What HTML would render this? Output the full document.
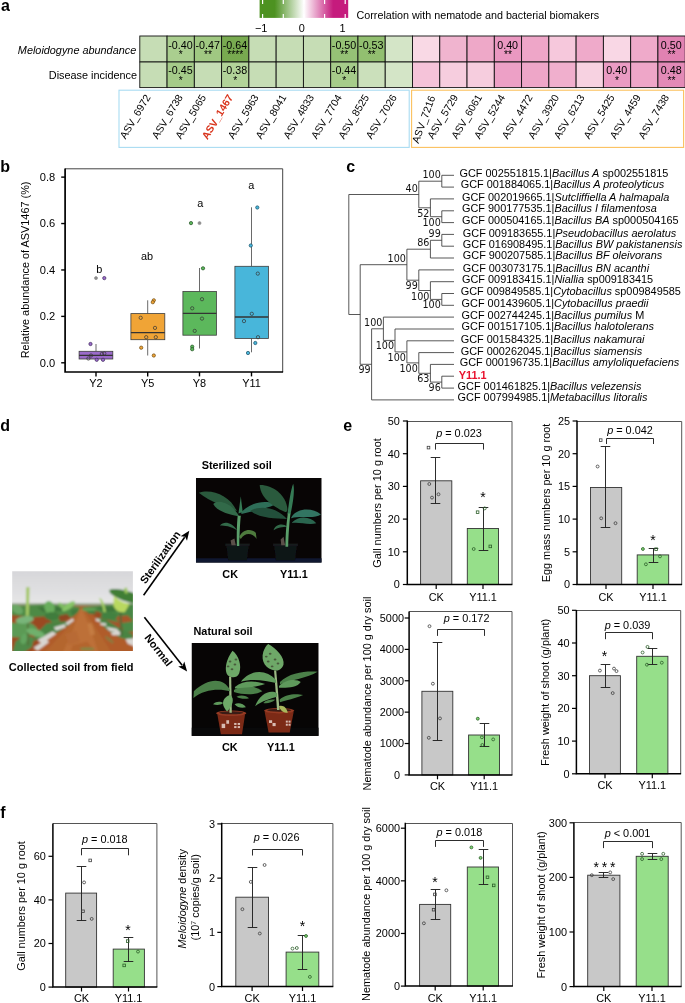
<!DOCTYPE html>
<html><head><meta charset="utf-8"><title>Figure</title>
<style>
html,body{margin:0;padding:0;background:#fff;}
svg{display:block;font-family:'Liberation Sans', Arial, sans-serif;}
</style></head><body>
<svg width="685" height="1003" viewBox="0 0 685 1003">
<rect x="0" y="0" width="685" height="1003" fill="#fff"/>
<g id="panel-a">
<text x="0.90" y="11.00" font-size="16" font-weight="bold">a</text>
<defs><linearGradient id="cb" x1="0" x2="1" y1="0" y2="0"><stop offset="0" stop-color="#4d9221"/><stop offset="0.17" stop-color="#4d9221"/><stop offset="0.5" stop-color="#ffffff"/><stop offset="0.83" stop-color="#c51b7d"/><stop offset="1" stop-color="#c51b7d"/></linearGradient></defs>
<rect x="259.60" y="0.00" width="88.60" height="17.90" fill="url(#cb)" stroke="none" stroke-width="1"/>
<line x1="262.60" y1="0.00" x2="262.60" y2="4.00" stroke="#fff" stroke-width="1.2"/>
<line x1="262.60" y1="13.90" x2="262.60" y2="17.90" stroke="#fff" stroke-width="1.2"/>
<line x1="283.30" y1="0.00" x2="283.30" y2="4.00" stroke="#fff" stroke-width="1.2"/>
<line x1="283.30" y1="13.90" x2="283.30" y2="17.90" stroke="#fff" stroke-width="1.2"/>
<line x1="304.00" y1="0.00" x2="304.00" y2="4.00" stroke="#fff" stroke-width="1.2"/>
<line x1="304.00" y1="13.90" x2="304.00" y2="17.90" stroke="#fff" stroke-width="1.2"/>
<line x1="324.60" y1="0.00" x2="324.60" y2="4.00" stroke="#fff" stroke-width="1.2"/>
<line x1="324.60" y1="13.90" x2="324.60" y2="17.90" stroke="#fff" stroke-width="1.2"/>
<line x1="345.20" y1="0.00" x2="345.20" y2="4.00" stroke="#fff" stroke-width="1.2"/>
<line x1="345.20" y1="13.90" x2="345.20" y2="17.90" stroke="#fff" stroke-width="1.2"/>
<text x="261.20" y="31.80" font-size="10.9" text-anchor="middle">−1</text>
<text x="301.90" y="31.80" font-size="10.9" text-anchor="middle">0</text>
<text x="342.60" y="31.80" font-size="10.9" text-anchor="middle">1</text>
<text x="356.50" y="18.80" font-size="10.75">Correlation with nematode and bacterial biomakers</text>
<text x="136.20" y="54.20" font-size="10.87" text-anchor="end" font-style="italic">Meloidogyne abundance</text>
<text x="137.00" y="79.20" font-size="10.87" text-anchor="end">Disease incidence</text>
<rect x="139.80" y="36.00" width="27.27" height="26.00" fill="rgb(198,221,181)" stroke="#111" stroke-width="0.9"/>
<rect x="139.80" y="62.00" width="27.27" height="25.60" fill="rgb(198,221,181)" stroke="#111" stroke-width="0.9"/>
<rect x="167.07" y="36.00" width="27.27" height="26.00" fill="rgb(170,206,143)" stroke="#111" stroke-width="0.9"/>
<rect x="167.07" y="62.00" width="27.27" height="25.60" fill="rgb(165,203,137)" stroke="#111" stroke-width="0.9"/>
<rect x="194.34" y="36.00" width="27.27" height="26.00" fill="rgb(160,200,130)" stroke="#111" stroke-width="0.9"/>
<rect x="194.34" y="62.00" width="27.27" height="25.60" fill="rgb(198,221,181)" stroke="#111" stroke-width="0.9"/>
<rect x="221.61" y="36.00" width="27.27" height="26.00" fill="rgb(120,170,80)" stroke="#111" stroke-width="0.9"/>
<rect x="221.61" y="62.00" width="27.27" height="25.60" fill="rgb(178,211,153)" stroke="#111" stroke-width="0.9"/>
<rect x="248.88" y="36.00" width="27.27" height="26.00" fill="rgb(198,221,181)" stroke="#111" stroke-width="0.9"/>
<rect x="248.88" y="62.00" width="27.27" height="25.60" fill="rgb(198,221,181)" stroke="#111" stroke-width="0.9"/>
<rect x="276.15" y="36.00" width="27.27" height="26.00" fill="rgb(198,221,181)" stroke="#111" stroke-width="0.9"/>
<rect x="276.15" y="62.00" width="27.27" height="25.60" fill="rgb(198,221,181)" stroke="#111" stroke-width="0.9"/>
<rect x="303.42" y="36.00" width="27.27" height="26.00" fill="rgb(198,221,181)" stroke="#111" stroke-width="0.9"/>
<rect x="303.42" y="62.00" width="27.27" height="25.60" fill="rgb(198,221,181)" stroke="#111" stroke-width="0.9"/>
<rect x="330.69" y="36.00" width="27.27" height="26.00" fill="rgb(150,194,118)" stroke="#111" stroke-width="0.9"/>
<rect x="330.69" y="62.00" width="27.27" height="25.60" fill="rgb(166,204,138)" stroke="#111" stroke-width="0.9"/>
<rect x="357.96" y="36.00" width="27.27" height="26.00" fill="rgb(146,191,112)" stroke="#111" stroke-width="0.9"/>
<rect x="357.96" y="62.00" width="27.27" height="25.60" fill="rgb(203,224,187)" stroke="#111" stroke-width="0.9"/>
<rect x="385.23" y="36.00" width="27.27" height="26.00" fill="rgb(212,229,199)" stroke="#111" stroke-width="0.9"/>
<rect x="385.23" y="62.00" width="27.27" height="25.60" fill="rgb(212,229,199)" stroke="#111" stroke-width="0.9"/>
<rect x="412.50" y="36.00" width="27.27" height="26.00" fill="rgb(249,217,229)" stroke="#111" stroke-width="0.9"/>
<rect x="412.50" y="62.00" width="27.27" height="25.60" fill="rgb(245,195,217)" stroke="#111" stroke-width="0.9"/>
<rect x="439.77" y="36.00" width="27.27" height="26.00" fill="rgb(240,180,207)" stroke="#111" stroke-width="0.9"/>
<rect x="439.77" y="62.00" width="27.27" height="25.60" fill="rgb(246,205,222)" stroke="#111" stroke-width="0.9"/>
<rect x="467.04" y="36.00" width="27.27" height="26.00" fill="rgb(238,168,200)" stroke="#111" stroke-width="0.9"/>
<rect x="467.04" y="62.00" width="27.27" height="25.60" fill="rgb(246,205,222)" stroke="#111" stroke-width="0.9"/>
<rect x="494.31" y="36.00" width="27.27" height="26.00" fill="rgb(234,152,193)" stroke="#111" stroke-width="0.9"/>
<rect x="494.31" y="62.00" width="27.27" height="25.60" fill="rgb(237,160,198)" stroke="#111" stroke-width="0.9"/>
<rect x="521.58" y="36.00" width="27.27" height="26.00" fill="rgb(238,166,200)" stroke="#111" stroke-width="0.9"/>
<rect x="521.58" y="62.00" width="27.27" height="25.60" fill="rgb(238,166,200)" stroke="#111" stroke-width="0.9"/>
<rect x="548.85" y="36.00" width="27.27" height="26.00" fill="rgb(246,200,220)" stroke="#111" stroke-width="0.9"/>
<rect x="548.85" y="62.00" width="27.27" height="25.60" fill="rgb(240,175,205)" stroke="#111" stroke-width="0.9"/>
<rect x="576.12" y="36.00" width="27.27" height="26.00" fill="rgb(239,170,202)" stroke="#111" stroke-width="0.9"/>
<rect x="576.12" y="62.00" width="27.27" height="25.60" fill="rgb(247,210,225)" stroke="#111" stroke-width="0.9"/>
<rect x="603.39" y="36.00" width="27.27" height="26.00" fill="rgb(249,215,229)" stroke="#111" stroke-width="0.9"/>
<rect x="603.39" y="62.00" width="27.27" height="25.60" fill="rgb(234,155,195)" stroke="#111" stroke-width="0.9"/>
<rect x="630.66" y="36.00" width="27.27" height="26.00" fill="rgb(239,170,202)" stroke="#111" stroke-width="0.9"/>
<rect x="630.66" y="62.00" width="27.27" height="25.60" fill="rgb(238,166,200)" stroke="#111" stroke-width="0.9"/>
<rect x="657.93" y="36.00" width="27.27" height="26.00" fill="rgb(225,130,178)" stroke="#111" stroke-width="0.9"/>
<rect x="657.93" y="62.00" width="27.27" height="25.60" fill="rgb(227,138,183)" stroke="#111" stroke-width="0.9"/>
<text x="180.41" y="48.70" font-size="10.7" text-anchor="middle">-0.40</text>
<text x="180.71" y="58.30" font-size="10.2" text-anchor="middle">*</text>
<text x="207.68" y="48.70" font-size="10.7" text-anchor="middle">-0.47</text>
<text x="207.98" y="58.30" font-size="10.2" text-anchor="middle">**</text>
<text x="234.94" y="48.70" font-size="10.7" text-anchor="middle">-0.64</text>
<text x="235.25" y="58.30" font-size="10.2" text-anchor="middle">****</text>
<text x="344.03" y="48.70" font-size="10.7" text-anchor="middle">-0.50</text>
<text x="344.33" y="58.30" font-size="10.2" text-anchor="middle">**</text>
<text x="371.30" y="48.70" font-size="10.7" text-anchor="middle">-0.53</text>
<text x="371.60" y="58.30" font-size="10.2" text-anchor="middle">**</text>
<text x="507.64" y="48.70" font-size="10.7" text-anchor="middle">0.40</text>
<text x="507.94" y="58.30" font-size="10.2" text-anchor="middle">**</text>
<text x="671.27" y="48.70" font-size="10.7" text-anchor="middle">0.50</text>
<text x="671.57" y="58.30" font-size="10.2" text-anchor="middle">**</text>
<text x="180.41" y="73.80" font-size="10.7" text-anchor="middle">-0.45</text>
<text x="180.71" y="84.30" font-size="10.2" text-anchor="middle">*</text>
<text x="234.94" y="73.80" font-size="10.7" text-anchor="middle">-0.38</text>
<text x="235.25" y="84.30" font-size="10.2" text-anchor="middle">*</text>
<text x="344.03" y="73.80" font-size="10.7" text-anchor="middle">-0.44</text>
<text x="344.33" y="84.30" font-size="10.2" text-anchor="middle">*</text>
<text x="616.73" y="73.80" font-size="10.7" text-anchor="middle">0.40</text>
<text x="617.02" y="84.30" font-size="10.2" text-anchor="middle">*</text>
<text x="671.27" y="73.80" font-size="10.7" text-anchor="middle">0.48</text>
<text x="671.57" y="84.30" font-size="10.2" text-anchor="middle">**</text>
<rect x="119.00" y="90.20" width="290.20" height="57.20" fill="none" stroke="#a9dcf2" stroke-width="1.1"/>
<rect x="411.60" y="90.20" width="272.00" height="57.20" fill="none" stroke="#fbc15e" stroke-width="1.1"/>
<text x="151.00" y="97.20" font-size="10.4" text-anchor="end" transform="rotate(-59 151.00 97.20)">ASV_6972</text>
<text x="183.20" y="97.20" font-size="10.4" text-anchor="end" transform="rotate(-59 183.20 97.20)">ASV_6738</text>
<text x="206.50" y="97.20" font-size="10.4" text-anchor="end" transform="rotate(-59 206.50 97.20)">ASV_5065</text>
<text x="233.40" y="97.20" font-size="10.4" text-anchor="end" font-weight="bold" fill="#d9341c" transform="rotate(-59 233.40 97.20)">ASV_1467</text>
<text x="259.10" y="97.20" font-size="10.4" text-anchor="end" transform="rotate(-59 259.10 97.20)">ASV_5963</text>
<text x="286.80" y="97.20" font-size="10.4" text-anchor="end" transform="rotate(-59 286.80 97.20)">ASV_8041</text>
<text x="314.50" y="97.20" font-size="10.4" text-anchor="end" transform="rotate(-59 314.50 97.20)">ASV_4833</text>
<text x="342.30" y="97.20" font-size="10.4" text-anchor="end" transform="rotate(-59 342.30 97.20)">ASV_7704</text>
<text x="369.50" y="97.20" font-size="10.4" text-anchor="end" transform="rotate(-59 369.50 97.20)">ASV_8525</text>
<text x="397.20" y="97.20" font-size="10.4" text-anchor="end" transform="rotate(-59 397.20 97.20)">ASV_7026</text>
<text x="435.40" y="97.20" font-size="10.4" text-anchor="end" transform="rotate(-70 435.40 97.20)">ASV_7216</text>
<text x="458.50" y="97.20" font-size="10.4" text-anchor="end" transform="rotate(-59 458.50 97.20)">ASV_5729</text>
<text x="482.50" y="97.20" font-size="10.4" text-anchor="end" transform="rotate(-59 482.50 97.20)">ASV_6061</text>
<text x="505.40" y="97.20" font-size="10.4" text-anchor="end" transform="rotate(-59 505.40 97.20)">ASV_5244</text>
<text x="533.10" y="97.20" font-size="10.4" text-anchor="end" transform="rotate(-59 533.10 97.20)">ASV_4472</text>
<text x="559.40" y="97.20" font-size="10.4" text-anchor="end" transform="rotate(-59 559.40 97.20)">ASV_3920</text>
<text x="585.10" y="97.20" font-size="10.4" text-anchor="end" transform="rotate(-59 585.10 97.20)">ASV_6213</text>
<text x="614.90" y="97.20" font-size="10.4" text-anchor="end" transform="rotate(-59 614.90 97.20)">ASV_5425</text>
<text x="641.20" y="97.20" font-size="10.4" text-anchor="end" transform="rotate(-59 641.20 97.20)">ASV_4459</text>
<text x="669.50" y="97.20" font-size="10.4" text-anchor="end" transform="rotate(-59 669.50 97.20)">ASV_7438</text>
</g>
<g id="panel-b">
<text x="0.20" y="171.90" font-size="16" font-weight="bold">b</text>
<path d="M65.1 168.8H282.7V372.0" fill="none" stroke="#444" stroke-width="1.0"/>
<line x1="96.00" y1="344.00" x2="96.00" y2="351.30" stroke="#444" stroke-width="0.8"/>
<line x1="96.00" y1="359.00" x2="96.00" y2="359.60" stroke="#444" stroke-width="0.8"/>
<rect x="79.10" y="351.30" width="33.70" height="7.70" fill="#9b6bca" stroke="#3c3c3c" stroke-width="0.8"/>
<line x1="79.10" y1="355.30" x2="112.80" y2="355.30" stroke="#333" stroke-width="1.3"/>
<line x1="147.70" y1="300.30" x2="147.70" y2="313.60" stroke="#444" stroke-width="0.8"/>
<line x1="147.70" y1="339.70" x2="147.70" y2="355.50" stroke="#444" stroke-width="0.8"/>
<rect x="130.90" y="313.60" width="33.90" height="26.10" fill="#f0a436" stroke="#3c3c3c" stroke-width="0.8"/>
<line x1="130.90" y1="332.70" x2="164.80" y2="332.70" stroke="#333" stroke-width="1.3"/>
<line x1="199.50" y1="268.00" x2="199.50" y2="291.50" stroke="#444" stroke-width="0.8"/>
<line x1="199.50" y1="335.20" x2="199.50" y2="348.50" stroke="#444" stroke-width="0.8"/>
<rect x="182.90" y="291.50" width="33.50" height="43.70" fill="#5cb85c" stroke="#3c3c3c" stroke-width="0.8"/>
<line x1="182.90" y1="313.30" x2="216.40" y2="313.30" stroke="#333" stroke-width="1.3"/>
<line x1="251.50" y1="207.30" x2="251.50" y2="266.30" stroke="#444" stroke-width="0.8"/>
<line x1="251.50" y1="338.40" x2="251.50" y2="352.30" stroke="#444" stroke-width="0.8"/>
<rect x="234.90" y="266.30" width="33.50" height="72.10" fill="#48b6da" stroke="#3c3c3c" stroke-width="0.8"/>
<line x1="234.90" y1="317.00" x2="268.40" y2="317.00" stroke="#333" stroke-width="1.3"/>
<circle cx="96.0" cy="278.1" r="1.5" fill="#8c8c8c" stroke="#8c8c8c" stroke-width="0.7"/>
<circle cx="104.3" cy="278.1" r="1.65" fill="#9b6bca" stroke="#3d2a5c" stroke-width="0.7"/>
<circle cx="90.5" cy="344.0" r="1.65" fill="#9b6bca" stroke="#3d2a5c" stroke-width="0.7"/>
<circle cx="91.0" cy="355.5" r="1.65" fill="none" stroke="#333" stroke-width="0.7"/>
<circle cx="88.4" cy="358.5" r="1.65" fill="none" stroke="#333" stroke-width="0.7"/>
<circle cx="96.7" cy="359.8" r="1.65" fill="#9b6bca" stroke="#3d2a5c" stroke-width="0.7"/>
<circle cx="103.0" cy="359.8" r="1.65" fill="#9b6bca" stroke="#3d2a5c" stroke-width="0.7"/>
<circle cx="101.8" cy="354.0" r="1.65" fill="none" stroke="#333" stroke-width="0.7"/>
<circle cx="104.3" cy="353.5" r="1.65" fill="none" stroke="#333" stroke-width="0.7"/>
<circle cx="153.8" cy="300.3" r="1.65" fill="#f0a436" stroke="#6b4a14" stroke-width="0.7"/>
<circle cx="152.8" cy="302.2" r="1.65" fill="#f0a436" stroke="#6b4a14" stroke-width="0.7"/>
<circle cx="140.7" cy="317.8" r="1.65" fill="none" stroke="#333" stroke-width="0.7"/>
<circle cx="155.0" cy="327.9" r="1.65" fill="none" stroke="#333" stroke-width="0.7"/>
<circle cx="146.2" cy="337.2" r="1.65" fill="none" stroke="#333" stroke-width="0.7"/>
<circle cx="155.8" cy="337.2" r="1.65" fill="none" stroke="#333" stroke-width="0.7"/>
<circle cx="141.2" cy="347.7" r="1.65" fill="#f0a436" stroke="#6b4a14" stroke-width="0.7"/>
<circle cx="153.8" cy="355.5" r="1.65" fill="#f0a436" stroke="#6b4a14" stroke-width="0.7"/>
<circle cx="199.5" cy="223.1" r="1.5" fill="#8c8c8c" stroke="#8c8c8c" stroke-width="0.7"/>
<circle cx="191.0" cy="223.1" r="1.65" fill="#5cb85c" stroke="#1f4f1f" stroke-width="0.7"/>
<circle cx="203.0" cy="268.3" r="1.65" fill="#5cb85c" stroke="#1f4f1f" stroke-width="0.7"/>
<circle cx="202.0" cy="299.2" r="1.65" fill="none" stroke="#333" stroke-width="0.7"/>
<circle cx="192.2" cy="308.3" r="1.65" fill="none" stroke="#333" stroke-width="0.7"/>
<circle cx="202.0" cy="318.6" r="1.65" fill="none" stroke="#333" stroke-width="0.7"/>
<circle cx="194.7" cy="330.9" r="1.65" fill="none" stroke="#333" stroke-width="0.7"/>
<circle cx="192.2" cy="346.7" r="1.65" fill="#5cb85c" stroke="#1f4f1f" stroke-width="0.7"/>
<circle cx="192.2" cy="349.2" r="1.65" fill="#5cb85c" stroke="#1f4f1f" stroke-width="0.7"/>
<circle cx="257.3" cy="207.5" r="1.65" fill="#48b6da" stroke="#1c5268" stroke-width="0.7"/>
<circle cx="250.8" cy="245.5" r="1.65" fill="#48b6da" stroke="#1c5268" stroke-width="0.7"/>
<circle cx="257.8" cy="273.6" r="1.65" fill="none" stroke="#333" stroke-width="0.7"/>
<circle cx="251.8" cy="313.8" r="1.65" fill="none" stroke="#333" stroke-width="0.7"/>
<circle cx="244.0" cy="321.1" r="1.65" fill="none" stroke="#333" stroke-width="0.7"/>
<circle cx="258.0" cy="337.2" r="1.65" fill="none" stroke="#333" stroke-width="0.7"/>
<circle cx="255.3" cy="343.0" r="1.65" fill="#48b6da" stroke="#1c5268" stroke-width="0.7"/>
<circle cx="248.0" cy="353.0" r="1.65" fill="#48b6da" stroke="#1c5268" stroke-width="0.7"/>
<path d="M65.1 168.4V372.0H283.09999999999997" fill="none" stroke="#000" stroke-width="1.7"/>
<line x1="61.20" y1="362.80" x2="65.10" y2="362.80" stroke="#000" stroke-width="1.4"/>
<text x="55.20" y="366.70" font-size="11.1" text-anchor="end">0.0</text>
<line x1="61.20" y1="316.38" x2="65.10" y2="316.38" stroke="#000" stroke-width="1.4"/>
<text x="55.20" y="320.28" font-size="11.1" text-anchor="end">0.2</text>
<line x1="61.20" y1="269.96" x2="65.10" y2="269.96" stroke="#000" stroke-width="1.4"/>
<text x="55.20" y="273.86" font-size="11.1" text-anchor="end">0.4</text>
<line x1="61.20" y1="223.54" x2="65.10" y2="223.54" stroke="#000" stroke-width="1.4"/>
<text x="55.20" y="227.44" font-size="11.1" text-anchor="end">0.6</text>
<line x1="61.20" y1="177.12" x2="65.10" y2="177.12" stroke="#000" stroke-width="1.4"/>
<text x="55.20" y="181.02" font-size="11.1" text-anchor="end">0.8</text>
<line x1="96.00" y1="372.00" x2="96.00" y2="376.40" stroke="#000" stroke-width="1.4"/>
<text x="96.00" y="387.40" font-size="10.9" text-anchor="middle">Y2</text>
<line x1="147.70" y1="372.00" x2="147.70" y2="376.40" stroke="#000" stroke-width="1.4"/>
<text x="147.70" y="387.40" font-size="10.9" text-anchor="middle">Y5</text>
<line x1="199.50" y1="372.00" x2="199.50" y2="376.40" stroke="#000" stroke-width="1.4"/>
<text x="199.50" y="387.40" font-size="10.9" text-anchor="middle">Y8</text>
<line x1="251.50" y1="372.00" x2="251.50" y2="376.40" stroke="#000" stroke-width="1.4"/>
<text x="251.50" y="387.40" font-size="10.9" text-anchor="middle">Y11</text>
<text x="99.20" y="273.00" font-size="10.9" text-anchor="middle">b</text>
<text x="147.00" y="260.00" font-size="10.9" text-anchor="middle">ab</text>
<text x="200.30" y="207.00" font-size="10.9" text-anchor="middle">a</text>
<text x="251.30" y="188.70" font-size="10.9" text-anchor="middle">a</text>
<text x="29.20" y="269.90" font-size="10.9" text-anchor="middle" transform="rotate(-90 29.20 269.90)">Relative abundance of ASV1467 (%)</text>
</g>
<g id="panel-c">
<text x="346.20" y="171.60" font-size="16" font-weight="bold">c</text>
<path d="M441.8 175.3L454.0 175.3M441.8 187.1L454.0 187.1M441.8 175.3L441.8 187.1M418.8 181.2L441.8 181.2M430.4 198.9L454.0 198.9M441.8 210.8L454.0 210.8M441.8 222.6L454.0 222.6M441.8 210.8L441.8 222.6M430.4 216.7L441.8 216.7M430.4 198.9L430.4 216.7M418.8 207.8L430.4 207.8M418.8 181.2L418.8 207.8M348.8 194.5L418.8 194.5M441.8 234.4L454.0 234.4M441.8 246.2L454.0 246.2M441.8 234.4L441.8 246.2M430.4 240.3L441.8 240.3M430.4 258.0L454.0 258.0M430.4 240.3L430.4 258.0M406.9 249.2L430.4 249.2M418.8 269.9L454.0 269.9M430.4 281.7L454.0 281.7M441.8 293.5L454.0 293.5M441.8 305.3L454.0 305.3M441.8 293.5L441.8 305.3M430.4 299.4L441.8 299.4M430.4 281.7L430.4 299.4M418.8 290.5L430.4 290.5M418.8 269.9L418.8 290.5M406.9 280.2L418.8 280.2M406.9 249.2L406.9 280.2M360.2 264.7L406.9 264.7M383.4 317.1L454.0 317.1M395.0 329.0L454.0 329.0M406.9 340.8L454.0 340.8M418.8 352.6L454.0 352.6M430.4 364.4L454.0 364.4M441.8 376.2L454.0 376.2M441.8 388.1L454.0 388.1M441.8 376.2L441.8 388.1M430.4 382.1L441.8 382.1M430.4 364.4L430.4 382.1M418.8 373.3L430.4 373.3M418.8 352.6L418.8 373.3M406.9 362.9L418.8 362.9M406.9 340.8L406.9 362.9M395.0 351.9L406.9 351.9M395.0 329.0L395.0 351.9M383.4 340.4L395.0 340.4M383.4 317.1L383.4 340.4M371.6 328.8L383.4 328.8M371.6 399.9L454.0 399.9M371.6 328.8L371.6 399.9M360.2 364.3L371.6 364.3M360.2 264.7L360.2 364.3M348.8 314.5L360.2 314.5M348.8 194.5L348.8 314.5" fill="none" stroke="#3a3a3a" stroke-width="0.85"/>
<text x="440.8" y="178.2" font-size="9.6" text-anchor="end" font-family="'DejaVu Sans', Verdana, sans-serif" fill="#111">100</text>
<text x="440.8" y="225.7" font-size="9.6" text-anchor="end" font-family="'DejaVu Sans', Verdana, sans-serif" fill="#111">100</text>
<text x="429.4" y="216.8" font-size="9.6" text-anchor="end" font-family="'DejaVu Sans', Verdana, sans-serif" fill="#111">52</text>
<text x="417.8" y="191.5" font-size="9.6" text-anchor="end" font-family="'DejaVu Sans', Verdana, sans-serif" fill="#111">40</text>
<text x="440.8" y="237.3" font-size="9.6" text-anchor="end" font-family="'DejaVu Sans', Verdana, sans-serif" fill="#111">99</text>
<text x="429.4" y="246.2" font-size="9.6" text-anchor="end" font-family="'DejaVu Sans', Verdana, sans-serif" fill="#111">86</text>
<text x="440.8" y="308.4" font-size="9.6" text-anchor="end" font-family="'DejaVu Sans', Verdana, sans-serif" fill="#111">100</text>
<text x="429.4" y="299.5" font-size="9.6" text-anchor="end" font-family="'DejaVu Sans', Verdana, sans-serif" fill="#111">100</text>
<text x="417.8" y="289.2" font-size="9.6" text-anchor="end" font-family="'DejaVu Sans', Verdana, sans-serif" fill="#111">99</text>
<text x="405.9" y="261.7" font-size="9.6" text-anchor="end" font-family="'DejaVu Sans', Verdana, sans-serif" fill="#111">100</text>
<text x="440.8" y="391.1" font-size="9.6" text-anchor="end" font-family="'DejaVu Sans', Verdana, sans-serif" fill="#111">96</text>
<text x="429.4" y="382.3" font-size="9.6" text-anchor="end" font-family="'DejaVu Sans', Verdana, sans-serif" fill="#111">63</text>
<text x="417.8" y="371.9" font-size="9.6" text-anchor="end" font-family="'DejaVu Sans', Verdana, sans-serif" fill="#111">100</text>
<text x="405.9" y="360.9" font-size="9.6" text-anchor="end" font-family="'DejaVu Sans', Verdana, sans-serif" fill="#111">100</text>
<text x="394.0" y="349.4" font-size="9.6" text-anchor="end" font-family="'DejaVu Sans', Verdana, sans-serif" fill="#111">100</text>
<text x="382.4" y="325.8" font-size="9.6" text-anchor="end" font-family="'DejaVu Sans', Verdana, sans-serif" fill="#111">100</text>
<text x="370.6" y="373.3" font-size="9.6" text-anchor="end" font-family="'DejaVu Sans', Verdana, sans-serif" fill="#111">99</text>
<text x="459.5" y="177.0" font-size="10.9">GCF 002551815.1|<tspan font-style="italic">Bacillus A</tspan> sp002551815</text>
<text x="460.7" y="187.8" font-size="10.9">GCF 001884065.1|<tspan font-style="italic">Bacillus A proteolyticus</tspan></text>
<text x="462.0" y="201.0" font-size="10.9">GCF 002019665.1|<tspan font-style="italic">Sutcliffiella A halmapala</tspan></text>
<text x="462.0" y="211.9" font-size="10.9">GCF 900177535.1|<tspan font-style="italic">Bacillus I filamentosa</tspan></text>
<text x="462.0" y="224.0" font-size="10.9">GCF 000504165.1|<tspan font-style="italic">Bacillus BA</tspan> sp000504165</text>
<text x="462.8" y="237.2" font-size="10.9">GCF 009183655.1|<tspan font-style="italic">Pseudobacillus aerolatus</tspan></text>
<text x="462.8" y="247.7" font-size="10.9">GCF 016908495.1|<tspan font-style="italic">Bacillus BW pakistanensis</tspan></text>
<text x="462.8" y="259.2" font-size="10.9">GCF 900207585.1|<tspan font-style="italic">Bacillus BF oleivorans</tspan></text>
<text x="462.8" y="272.3" font-size="10.9">GCF 003073175.1|<tspan font-style="italic">Bacillus BN acanthi</tspan></text>
<text x="462.0" y="283.3" font-size="10.9">GCF 009183415.1|<tspan font-style="italic">Niallia</tspan> sp009183415</text>
<text x="460.7" y="295.4" font-size="10.9">GCF 009849585.1|<tspan font-style="italic">Cytobacillus</tspan> sp009849585</text>
<text x="461.6" y="307.0" font-size="10.9">GCF 001439605.1|<tspan font-style="italic">Cytobacillus praedii</tspan></text>
<text x="461.6" y="319.4" font-size="10.9">GCF 002744245.1|<tspan font-style="italic">Bacillus pumilus</tspan> M</text>
<text x="461.6" y="330.3" font-size="10.9">GCF 001517105.1|<tspan font-style="italic">Bacillus halotolerans</tspan></text>
<text x="460.7" y="342.7" font-size="10.9">GCF 001584325.1|<tspan font-style="italic">Bacillus nakamurai</tspan></text>
<text x="460.7" y="354.9" font-size="10.9">GCF 000262045.1|<tspan font-style="italic">Bacillus siamensis</tspan></text>
<text x="459.7" y="366.4" font-size="10.9">GCF 000196735.1|<tspan font-style="italic">Bacillus amyloliquefaciens</tspan></text>
<text x="458.70" y="379.20" font-size="10.9" font-weight="bold" fill="#e8112d">Y11.1</text>
<text x="457.6" y="390.4" font-size="10.9">GCF 001461825.1|<tspan font-style="italic">Bacillus velezensis</tspan></text>
<text x="457.6" y="401.3" font-size="10.9">GCF 007994985.1|<tspan font-style="italic">Metabacillus litoralis</tspan></text>
</g>
<g id="panel-d">
<text x="0.20" y="431.20" font-size="16" font-weight="bold">d</text>
<defs><filter id="bl" filterUnits="userSpaceOnUse" x="-100" y="-100" width="900" height="700"><feGaussianBlur stdDeviation="4.5"/></filter><filter id="bl2" filterUnits="userSpaceOnUse" x="-100" y="-100" width="900" height="700"><feGaussianBlur stdDeviation="3.2"/></filter><linearGradient id="sky" x1="0" x2="0" y1="0" y2="1"><stop offset="0" stop-color="#d6d6d9"/><stop offset="0.25" stop-color="#d6d6d9"/><stop offset="1" stop-color="#e6e6e7"/></linearGradient><clipPath id="cpF"><rect x="12" y="18" width="656" height="434"/></clipPath><clipPath id="cpS"><rect x="15" y="15" width="653" height="440"/></clipPath><clipPath id="cpN"><rect x="18" y="15" width="650" height="475"/></clipPath></defs>
<svg x="12.2" y="571.3" width="120.7" height="79.8" viewBox="12 18 656 434" preserveAspectRatio="none">
<g clip-path="url(#cpF)"><g filter="url(#bl)">
<rect x="-60" y="-60" width="800" height="265" fill="url(#sky)"/>
<rect x="-60" y="192" width="800" height="22" fill="#8fa083"/>
<rect x="-60" y="205" width="800" height="320" fill="#b05c2c"/>
<polygon points="-60,240 160,262 320,290 200,360 60,520 -60,520" fill="#9c4a22"/>
<polygon points="740,250 560,270 470,260 560,340 740,460" fill="#a5532a"/>
<polygon points="378,222 396,222 470,330 590,520 130,520 310,330" fill="#b4662f"/>
<polygon points="383,225 392,225 440,340 500,520 260,520 345,330" fill="#bd7038"/>
<polygon points="-60,200 60,206 150,200 200,196 260,202 330,206 382,214 372,238 345,262 300,282 250,296 200,300 140,280 80,262 -60,250" fill="#4e8a45"/>
<polygon points="390,214 450,208 520,203 600,198 740,196 740,290 620,300 560,290 500,272 450,250 410,230" fill="#4a8744"/>
<polygon points="-40,300 60,290 120,300 150,330 120,360 60,380 -40,370" fill="#5b9a55"/>
<polygon points="30,400 80,360 130,380 120,430 60,470 10,470" fill="#4f8a48"/>
<polygon points="600,290 740,280 740,340 620,350" fill="#4c8a46"/>
<polygon points="120,268 200,262 230,300 160,318 110,300" fill="#9a4a24"/>
<polygon points="0,268 40,262 70,282 30,300 0,296" fill="#a14f26"/>
<polygon points="250,262 310,250 330,272 280,292" fill="#8f4522"/>
<polygon points="430,238 480,236 520,262 470,270" fill="#9a4a24"/>
<polygon points="560,262 640,258 668,290 600,300" fill="#a8542a"/>
<polygon points="330,228 372,222 362,248 338,262" fill="#3f7a3c"/>
<polygon points="396,222 440,222 470,250 430,250" fill="#3f7a3c"/>
<polygon points="150,214 260,210 300,232 180,240" fill="#3c763a"/>
<polygon points="470,214 600,208 640,230 520,240" fill="#3c763a"/>
<polygon points="300,360 360,340 380,400 320,420" fill="#b86a34"/>
<polygon points="420,300 445,300 462,360 436,370" fill="#c47c42"/>
<polygon points="340,420 420,400 460,452 330,452" fill="#b4652f"/>
<polygon points="200,300 300,290 330,300 260,350 180,380 120,400 150,350" fill="#4a8443"/>
<polygon points="470,270 520,280 600,330 668,360 668,400 600,380 520,330" fill="#4a8443"/>
<polygon points="300,300 340,274 348,286 312,312" fill="#d9d6d2"/>
<polygon points="238,322 300,304 302,322 250,342" fill="#d9d6d2"/>
<polygon points="150,390 232,344 252,358 172,412" fill="#d9d6d2"/>
<polygon points="128,432 200,390 212,404 150,450" fill="#d9d6d2"/>
<polygon points="464,274 490,280 490,294 468,288" fill="#d9d6d2"/>
<polygon points="490,298 522,300 524,316 492,310" fill="#d9d6d2"/>
<polygon points="520,320 582,330 596,352 540,342" fill="#d9d6d2"/>
<polygon points="548,350 600,344 600,366 556,366" fill="#d9d6d2"/>
<polygon points="628,386 740,376 740,452 640,412" fill="#d9d6d2"/>
<path d="M88 105 L106 103 L102 270 L86 270 Z" fill="#a3c764"/>
<path d="M92 260 L100 260 L104 420 L94 420 Z" fill="#55703a"/>
<ellipse cx="80" cy="282" rx="50" ry="20" fill="#79b57a" transform="rotate(-8 80 282)"/>
<ellipse cx="138" cy="352" rx="52" ry="20" fill="#6fb06c" transform="rotate(18 138 352)"/>
<ellipse cx="40" cy="225" rx="34" ry="22" fill="#6aa765" transform="rotate(35 40 225)"/>
<ellipse cx="75" cy="385" rx="18" ry="30" fill="#62a45e" transform="rotate(15 75 385)"/>
<ellipse cx="215" cy="215" rx="28" ry="36" fill="#67ad5c" transform="rotate(-20 215 215)"/>
<ellipse cx="318" cy="208" rx="42" ry="15" fill="#86c466" transform="rotate(-35 318 208)"/>
<ellipse cx="280" cy="205" rx="22" ry="10" fill="#7fbd62" transform="rotate(40 280 205)"/>
<path d="M484 165 C500 160 515 200 522 240 L508 240 C505 210 495 185 484 165 Z" fill="#a5cf62"/>
<path d="M538 122 C560 108 610 112 740 160 L740 205 C620 190 570 160 545 138 Z" fill="#3f7e35"/>
<path d="M565 150 C585 175 620 192 650 196 L625 240 C600 245 575 235 562 205 Z" fill="#b9d860"/>
<path d="M620 110 L636 106 L640 140 L624 138 Z" fill="#9bc65a"/>
<path d="M596 240 L606 240 L612 370 L600 370 Z" fill="#4f6a38"/>
<ellipse cx="540" cy="262" rx="46" ry="20" fill="#438140"/>
<ellipse cx="228" cy="262" rx="40" ry="22" fill="#3f7b3d"/>
<ellipse cx="430" cy="225" rx="40" ry="10" fill="#5f9e52"/>
<ellipse cx="420" cy="440" rx="40" ry="8" fill="#7c8a45"/>
<ellipse cx="540" cy="390" rx="30" ry="8" fill="#8a7a3c" transform="rotate(40 540 390)"/>
</g></g></svg>
<svg x="195.9" y="477.9" width="125.8" height="84.8" viewBox="15 15 653 440" preserveAspectRatio="none">
<g clip-path="url(#cpS)"><rect x="15" y="15" width="653" height="440" fill="#080505"/>
<rect x="15" y="432" width="653" height="23" fill="#0f1730"/><g filter="url(#bl2)">
<polygon points="172,362 290,362 280,442 182,442" fill="#111216"/><rect x="168" y="356" width="126" height="12" fill="#191a1f"/>
<polygon points="420,362 540,362 530,442 430,442" fill="#111216"/><rect x="416" y="356" width="128" height="12" fill="#191a1f"/>
<path d="M30 92 C90 70 190 100 228 188 C170 165 90 140 30 92 Z" fill="#2a5a3c"/>
<path d="M105 150 C135 122 205 150 240 215 C190 205 125 190 105 150 Z" fill="#326a4a"/>
<path d="M250 195 C300 140 370 130 432 150 C380 176 310 186 252 202 Z" fill="#2f6e58"/>
<path d="M248 112 L258 192 L236 200 Z" fill="#357a55"/>
<path d="M140 262 C160 238 200 244 228 286 C195 266 165 262 140 262 Z" fill="#326a4a"/>
<path d="M240 322 C255 284 300 274 326 300 L330 332 C310 300 270 296 248 332 Z" fill="#4d7a3c"/>
<path d="M228 368 C226 300 228 250 232 212 L248 212 C244 250 242 300 240 368 Z" fill="#5a9e6a"/>
<path d="M195 340 L215 330 L222 365 L200 365 Z" fill="#5a5048"/>
<path d="M346 52 C410 50 482 100 490 176 C490 188 485 192 478 192 C430 170 352 130 346 52 Z" fill="#2a5a3c"/>
<path d="M520 45 C530 80 518 150 506 204 L490 204 C498 150 506 80 520 45 Z" fill="#357a55"/>
<path d="M298 185 C350 154 440 170 488 228 C430 226 340 224 298 185 Z" fill="#24503a"/>
<path d="M510 220 C540 170 620 168 664 205 C630 230 560 208 510 224 Z" fill="#327562"/>
<path d="M515 245 C550 208 610 214 640 250 C600 262 550 242 515 249 Z" fill="#2c6650"/>
<path d="M418 286 C430 254 470 250 488 268 C465 270 440 272 418 286 Z" fill="#326a4a"/>
<path d="M480 372 C480 300 486 250 492 200 L506 200 C500 250 496 300 494 372 Z" fill="#5a9e6a"/>
<path d="M455 335 L470 320 L478 365 L458 365 Z" fill="#5a5048"/>
</g></g></svg>
<svg x="191.5" y="642.9" width="127.2" height="93.0" viewBox="18 15 650 475" preserveAspectRatio="none">
<g clip-path="url(#cpN)"><rect x="18" y="15" width="650" height="475" fill="#070505"/>
<rect x="18" y="448" width="650" height="42" fill="#09090a"/><g filter="url(#bl2)">
<polygon points="150,380 292,380 276,482 168,482" fill="#7c2a18"/><ellipse cx="221" cy="374" rx="77" ry="14" fill="#963a24"/><ellipse cx="221" cy="372" rx="62" ry="8" fill="#3a1c12"/>
<polygon points="392,368 540,368 520,472 412,472" fill="#7c2a18"/><ellipse cx="466" cy="361" rx="77" ry="14" fill="#963a24"/><ellipse cx="466" cy="359" rx="62" ry="8" fill="#3a1c12"/>
<rect x="196" y="410" width="14" height="18" fill="#d8bcb2"/>
<rect x="236" y="424" width="12" height="10" fill="#d8bcb2"/>
<rect x="254" y="424" width="12" height="10" fill="#d8bcb2"/>
<rect x="236" y="440" width="12" height="10" fill="#d8bcb2"/>
<rect x="254" y="440" width="12" height="10" fill="#d8bcb2"/>
<rect x="172" y="428" width="18" height="22" fill="#d8bcb2"/>
<rect x="414" y="410" width="16" height="14" fill="#d8bcb2"/>
<rect x="432" y="424" width="16" height="16" fill="#d8bcb2"/>
<rect x="500" y="412" width="10" height="10" fill="#d8bcb2"/>
<rect x="514" y="412" width="10" height="10" fill="#d8bcb2"/>
<rect x="500" y="428" width="10" height="10" fill="#d8bcb2"/>
<rect x="514" y="428" width="10" height="10" fill="#d8bcb2"/>
<path d="M228 55 C260 80 276 130 262 170 C250 196 225 192 215 186 C184 180 185 110 228 55 Z" fill="#6ea868"/>
<ellipse cx="215" cy="110" rx="7" ry="5" fill="#4a5a3c"/>
<ellipse cx="240" cy="125" rx="7" ry="5" fill="#4a5a3c"/>
<ellipse cx="225" cy="150" rx="7" ry="5" fill="#4a5a3c"/>
<ellipse cx="205" cy="135" rx="7" ry="5" fill="#4a5a3c"/>
<ellipse cx="245" cy="100" rx="7" ry="5" fill="#4a5a3c"/>
<path d="M210 186 L221 186 L224 372 L212 372 Z" fill="#9cba84"/>
<path d="M215 256 C180 188 100 196 30 262 L28 296 C80 252 160 246 215 262 Z" fill="#4b8049"/>
<path d="M235 255 C280 226 350 234 380 262 C340 284 280 280 235 266 Z" fill="#4b8049"/>
<path d="M240 240 C280 206 340 206 394 225 C350 242 290 242 240 248 Z" fill="#5f9a5c"/>
<path d="M215 280 C188 290 158 320 200 366 C226 340 242 300 215 280 Z" fill="#6ea868"/>
<path d="M128 328 C145 312 168 314 180 322 C165 334 145 334 128 328 Z" fill="#5f9a5c"/>
<path d="M238 328 C258 318 285 326 296 344 C272 350 252 344 238 328 Z" fill="#5f9a5c"/>
<path d="M248 290 C270 278 300 284 312 298 C288 304 266 300 248 290 Z" fill="#4b8049"/>
<path d="M410 20 C450 40 496 90 488 126 C480 152 455 158 445 156 C400 150 370 110 385 60 C392 40 400 28 410 20 Z" fill="#6ea868"/>
<ellipse cx="420" cy="70" rx="7" ry="5" fill="#4a5a3c"/>
<ellipse cx="445" cy="100" rx="7" ry="5" fill="#4a5a3c"/>
<ellipse cx="410" cy="110" rx="7" ry="5" fill="#4a5a3c"/>
<ellipse cx="460" cy="120" rx="7" ry="5" fill="#4a5a3c"/>
<ellipse cx="430" cy="135" rx="7" ry="5" fill="#4a5a3c"/>
<ellipse cx="400" cy="85" rx="7" ry="5" fill="#4a5a3c"/>
<path d="M440 156 L451 156 L468 358 L455 358 Z" fill="#9cba84"/>
<path d="M450 205 C400 148 320 150 270 214 C320 196 400 206 450 220 Z" fill="#5f9a5c"/>
<path d="M470 215 C520 166 600 158 662 162 C610 194 530 204 470 226 Z" fill="#4b8049"/>
<path d="M465 235 C500 198 560 198 576 215 C560 244 500 246 465 244 Z" fill="#5f9a5c"/>
<path d="M455 272 C420 250 366 276 343 338 C380 310 420 300 455 290 Z" fill="#5f9a5c"/>
<path d="M468 305 C500 272 560 274 588 281 C550 298 500 308 470 318 Z" fill="#4b8049"/>
<path d="M465 338 C485 330 505 345 510 372 C490 372 470 360 465 338 Z" fill="#a9b85c"/>
<path d="M385 322 C400 306 430 302 446 306 C430 320 405 326 385 322 Z" fill="#4b8049"/>
</g></g></svg>
<text x="201.70" y="468.80" font-size="10.87" font-weight="bold">Sterilized soil</text>
<text x="230.20" y="577.80" font-size="10.87" text-anchor="middle" font-weight="bold">CK</text>
<text x="294.00" y="577.80" font-size="10.87" text-anchor="middle" font-weight="bold">Y11.1</text>
<text x="193.50" y="634.60" font-size="10.87" font-weight="bold">Natural soil</text>
<text x="229.80" y="750.60" font-size="10.87" text-anchor="middle" font-weight="bold">CK</text>
<text x="281.00" y="751.40" font-size="10.87" text-anchor="middle" font-weight="bold">Y11.1</text>
<text x="71.20" y="670.90" font-size="11.0" text-anchor="middle" font-weight="bold">Collected soil from field</text>
<line x1="143.60" y1="595.30" x2="184.68" y2="537.33" stroke="#000" stroke-width="1.6"/>
<polygon points="189.3,530.8 187.0,540.8 185.1,536.8 180.6,536.3" fill="#000"/>
<line x1="144.40" y1="617.30" x2="182.15" y2="665.22" stroke="#000" stroke-width="1.6"/>
<polygon points="187.1,671.5 178.2,666.5 182.6,665.8 184.3,661.6" fill="#000"/>
<text x="163.30" y="559.50" font-size="10.87" text-anchor="middle" font-weight="bold" transform="rotate(-54.7 163.30 559.50)">Sterilization</text>
<text x="155.50" y="652.50" font-size="10.87" text-anchor="middle" font-weight="bold" transform="rotate(51.8 155.50 652.50)">Normal</text>
</g>
<g id="panel-e">
<text x="343.20" y="431.20" font-size="16" font-weight="bold">e</text>
<path d="M407.3 421.5H512.0V584.5" fill="none" stroke="#555" stroke-width="1"/>
<rect x="420.60" y="480.80" width="31.20" height="103.70" fill="#c8c8c8" stroke="#333" stroke-width="0.9"/>
<rect x="467.30" y="528.50" width="31.20" height="56.00" fill="#96df8a" stroke="#333" stroke-width="0.9"/>
<line x1="435.50" y1="457.50" x2="435.50" y2="503.50" stroke="#222" stroke-width="0.95"/>
<line x1="430.70" y1="457.50" x2="440.30" y2="457.50" stroke="#222" stroke-width="0.95"/>
<line x1="430.70" y1="503.50" x2="440.30" y2="503.50" stroke="#222" stroke-width="0.95"/>
<line x1="483.50" y1="507.50" x2="483.50" y2="550.50" stroke="#222" stroke-width="0.95"/>
<line x1="478.70" y1="507.50" x2="488.30" y2="507.50" stroke="#222" stroke-width="0.95"/>
<line x1="478.70" y1="550.50" x2="488.30" y2="550.50" stroke="#222" stroke-width="0.95"/>
<rect x="427.20" y="446.30" width="2.60" height="2.60" fill="none" stroke="#3f3f3f" stroke-width="0.8"/>
<circle cx="429.3" cy="484.0" r="1.45" fill="none" stroke="#3f3f3f" stroke-width="0.8"/>
<circle cx="438.5" cy="494.3" r="1.45" fill="none" stroke="#3f3f3f" stroke-width="0.8"/>
<circle cx="432.0" cy="497.6" r="1.45" fill="none" stroke="#3f3f3f" stroke-width="0.8"/>
<rect x="476.30" y="510.90" width="2.60" height="2.60" fill="none" stroke="#2c5e29" stroke-width="0.8"/>
<circle cx="484.7" cy="508.4" r="1.45" fill="none" stroke="#2c5e29" stroke-width="0.8"/>
<circle cx="473.7" cy="549.0" r="1.45" fill="none" stroke="#2c5e29" stroke-width="0.8"/>
<rect x="489.00" y="545.10" width="2.60" height="2.60" fill="none" stroke="#2c5e29" stroke-width="0.8"/>
<path d="M407.3 420.6V584.5H512.4" fill="none" stroke="#000" stroke-width="1.5"/>
<line x1="402.90" y1="584.50" x2="407.30" y2="584.50" stroke="#000" stroke-width="1.2"/>
<text x="399.80" y="588.40" font-size="10.9" text-anchor="end">0</text>
<line x1="402.90" y1="551.80" x2="407.30" y2="551.80" stroke="#000" stroke-width="1.2"/>
<text x="399.80" y="555.70" font-size="10.9" text-anchor="end">10</text>
<line x1="402.90" y1="519.10" x2="407.30" y2="519.10" stroke="#000" stroke-width="1.2"/>
<text x="399.80" y="523.00" font-size="10.9" text-anchor="end">20</text>
<line x1="402.90" y1="486.40" x2="407.30" y2="486.40" stroke="#000" stroke-width="1.2"/>
<text x="399.80" y="490.30" font-size="10.9" text-anchor="end">30</text>
<line x1="402.90" y1="453.70" x2="407.30" y2="453.70" stroke="#000" stroke-width="1.2"/>
<text x="399.80" y="457.60" font-size="10.9" text-anchor="end">40</text>
<line x1="402.90" y1="421.00" x2="407.30" y2="421.00" stroke="#000" stroke-width="1.2"/>
<text x="399.80" y="424.90" font-size="10.9" text-anchor="end">50</text>
<line x1="436.20" y1="584.50" x2="436.20" y2="588.90" stroke="#000" stroke-width="1.2"/>
<text x="436.20" y="601.00" font-size="10.9" text-anchor="middle">CK</text>
<line x1="483.00" y1="584.50" x2="483.00" y2="588.90" stroke="#000" stroke-width="1.2"/>
<text x="483.00" y="601.00" font-size="10.9" text-anchor="middle">Y11.1</text>
<path d="M435.5 449.6V443.5H483.5V449.6" fill="none" stroke="#222" stroke-width="0.95"/>
<text x="459.0" y="436.8" font-size="10.9" text-anchor="middle"><tspan font-style="italic">p</tspan> = 0.023</text>
<text x="483.00" y="501.60" font-size="14" text-anchor="middle">*</text>
<text x="381.0" y="503.0" font-size="10.9" text-anchor="middle" transform="rotate(-90 381.0 503.0)">Gall numbers per 10 g root</text>
<path d="M577.0 421.5H681.7V584.5" fill="none" stroke="#555" stroke-width="1"/>
<rect x="590.50" y="487.50" width="31.20" height="97.00" fill="#c8c8c8" stroke="#333" stroke-width="0.9"/>
<rect x="637.20" y="554.90" width="31.50" height="29.60" fill="#96df8a" stroke="#333" stroke-width="0.9"/>
<line x1="605.50" y1="446.50" x2="605.50" y2="527.50" stroke="#222" stroke-width="0.95"/>
<line x1="600.70" y1="446.50" x2="610.30" y2="446.50" stroke="#222" stroke-width="0.95"/>
<line x1="600.70" y1="527.50" x2="610.30" y2="527.50" stroke="#222" stroke-width="0.95"/>
<line x1="653.50" y1="548.50" x2="653.50" y2="562.50" stroke="#222" stroke-width="0.95"/>
<line x1="648.70" y1="548.50" x2="658.30" y2="548.50" stroke="#222" stroke-width="0.95"/>
<line x1="648.70" y1="562.50" x2="658.30" y2="562.50" stroke="#222" stroke-width="0.95"/>
<rect x="599.40" y="438.80" width="2.60" height="2.60" fill="none" stroke="#3f3f3f" stroke-width="0.8"/>
<circle cx="597.6" cy="466.5" r="1.45" fill="none" stroke="#3f3f3f" stroke-width="0.8"/>
<circle cx="601.2" cy="518.3" r="1.45" fill="none" stroke="#3f3f3f" stroke-width="0.8"/>
<circle cx="615.5" cy="523.2" r="1.45" fill="none" stroke="#3f3f3f" stroke-width="0.8"/>
<circle cx="642.9" cy="549.0" r="1.45" fill="#7fd672" stroke="#2c5e29" stroke-width="0.8"/>
<rect x="654.80" y="547.90" width="2.60" height="2.60" fill="none" stroke="#2c5e29" stroke-width="0.8"/>
<circle cx="660.0" cy="556.4" r="1.45" fill="none" stroke="#2c5e29" stroke-width="0.8"/>
<circle cx="645.9" cy="564.3" r="1.45" fill="none" stroke="#2c5e29" stroke-width="0.8"/>
<path d="M577.0 420.6V584.5H682.1" fill="none" stroke="#000" stroke-width="1.5"/>
<line x1="572.60" y1="584.50" x2="577.00" y2="584.50" stroke="#000" stroke-width="1.2"/>
<text x="570.00" y="588.40" font-size="10.9" text-anchor="end">0</text>
<line x1="572.60" y1="551.80" x2="577.00" y2="551.80" stroke="#000" stroke-width="1.2"/>
<text x="570.00" y="555.70" font-size="10.9" text-anchor="end">5</text>
<line x1="572.60" y1="519.10" x2="577.00" y2="519.10" stroke="#000" stroke-width="1.2"/>
<text x="570.00" y="523.00" font-size="10.9" text-anchor="end">10</text>
<line x1="572.60" y1="486.40" x2="577.00" y2="486.40" stroke="#000" stroke-width="1.2"/>
<text x="570.00" y="490.30" font-size="10.9" text-anchor="end">15</text>
<line x1="572.60" y1="453.70" x2="577.00" y2="453.70" stroke="#000" stroke-width="1.2"/>
<text x="570.00" y="457.60" font-size="10.9" text-anchor="end">20</text>
<line x1="572.60" y1="421.00" x2="577.00" y2="421.00" stroke="#000" stroke-width="1.2"/>
<text x="570.00" y="424.90" font-size="10.9" text-anchor="end">25</text>
<line x1="606.00" y1="584.50" x2="606.00" y2="588.90" stroke="#000" stroke-width="1.2"/>
<text x="606.00" y="601.00" font-size="10.9" text-anchor="middle">CK</text>
<line x1="653.00" y1="584.50" x2="653.00" y2="588.90" stroke="#000" stroke-width="1.2"/>
<text x="653.00" y="601.00" font-size="10.9" text-anchor="middle">Y11.1</text>
<path d="M606.5 444.0V438.5H653.5V444.0" fill="none" stroke="#222" stroke-width="0.95"/>
<text x="630.0" y="433.5" font-size="10.9" text-anchor="middle"><tspan font-style="italic">p</tspan> = 0.042</text>
<text x="653.00" y="544.60" font-size="14" text-anchor="middle">*</text>
<text x="549.6" y="503.0" font-size="10.9" text-anchor="middle" transform="rotate(-90 549.6 503.0)">Egg mass numbers per 10 g root</text>
<path d="M409.1 611.5H512.0V774.9" fill="none" stroke="#555" stroke-width="1"/>
<rect x="421.90" y="691.30" width="30.90" height="83.60" fill="#c8c8c8" stroke="#333" stroke-width="0.9"/>
<rect x="468.60" y="735.00" width="30.90" height="39.90" fill="#96df8a" stroke="#333" stroke-width="0.9"/>
<line x1="437.50" y1="642.50" x2="437.50" y2="740.50" stroke="#222" stroke-width="0.95"/>
<line x1="432.70" y1="642.50" x2="442.30" y2="642.50" stroke="#222" stroke-width="0.95"/>
<line x1="432.70" y1="740.50" x2="442.30" y2="740.50" stroke="#222" stroke-width="0.95"/>
<line x1="484.50" y1="723.50" x2="484.50" y2="746.50" stroke="#222" stroke-width="0.95"/>
<line x1="479.70" y1="723.50" x2="489.30" y2="723.50" stroke="#222" stroke-width="0.95"/>
<line x1="479.70" y1="746.50" x2="489.30" y2="746.50" stroke="#222" stroke-width="0.95"/>
<circle cx="429.5" cy="626.2" r="1.45" fill="none" stroke="#3f3f3f" stroke-width="0.8"/>
<circle cx="432.9" cy="683.7" r="1.45" fill="none" stroke="#3f3f3f" stroke-width="0.8"/>
<circle cx="440.0" cy="718.4" r="1.45" fill="none" stroke="#3f3f3f" stroke-width="0.8"/>
<circle cx="428.8" cy="737.8" r="1.45" fill="none" stroke="#3f3f3f" stroke-width="0.8"/>
<circle cx="477.8" cy="718.7" r="1.45" fill="#7fd672" stroke="#2c5e29" stroke-width="0.8"/>
<circle cx="481.9" cy="737.3" r="1.45" fill="none" stroke="#2c5e29" stroke-width="0.8"/>
<circle cx="493.2" cy="739.4" r="1.45" fill="none" stroke="#2c5e29" stroke-width="0.8"/>
<circle cx="482.4" cy="745.0" r="1.45" fill="none" stroke="#2c5e29" stroke-width="0.8"/>
<path d="M409.1 611.5V774.9H512.4" fill="none" stroke="#000" stroke-width="1.5"/>
<line x1="404.70" y1="774.90" x2="409.10" y2="774.90" stroke="#000" stroke-width="1.2"/>
<text x="400.00" y="778.80" font-size="10.9" text-anchor="end">0</text>
<line x1="404.70" y1="743.52" x2="409.10" y2="743.52" stroke="#000" stroke-width="1.2"/>
<text x="404.00" y="747.42" font-size="10.9" text-anchor="end">1000</text>
<line x1="404.70" y1="712.14" x2="409.10" y2="712.14" stroke="#000" stroke-width="1.2"/>
<text x="404.00" y="716.04" font-size="10.9" text-anchor="end">2000</text>
<line x1="404.70" y1="680.76" x2="409.10" y2="680.76" stroke="#000" stroke-width="1.2"/>
<text x="404.00" y="684.66" font-size="10.9" text-anchor="end">3000</text>
<line x1="404.70" y1="649.38" x2="409.10" y2="649.38" stroke="#000" stroke-width="1.2"/>
<text x="404.00" y="653.28" font-size="10.9" text-anchor="end">4000</text>
<line x1="404.70" y1="618.00" x2="409.10" y2="618.00" stroke="#000" stroke-width="1.2"/>
<text x="404.00" y="621.90" font-size="10.9" text-anchor="end">5000</text>
<line x1="437.50" y1="774.90" x2="437.50" y2="779.30" stroke="#000" stroke-width="1.2"/>
<text x="437.50" y="789.70" font-size="10.9" text-anchor="middle">CK</text>
<line x1="484.20" y1="774.90" x2="484.20" y2="779.30" stroke="#000" stroke-width="1.2"/>
<text x="484.20" y="789.70" font-size="10.9" text-anchor="middle">Y11.1</text>
<path d="M437.5 635.9V629.5H484.5V635.9" fill="none" stroke="#222" stroke-width="0.95"/>
<text x="466.6" y="622.3" font-size="10.9" text-anchor="middle"><tspan font-style="italic">p</tspan> = 0.172</text>
<text x="370.8" y="693.5" font-size="10.9" text-anchor="middle" transform="rotate(-90 370.8 693.5)">Nematode abundance per 100 g dry soil</text>
<path d="M576.4 610.5H680.7V773.8" fill="none" stroke="#555" stroke-width="1"/>
<rect x="589.50" y="675.70" width="30.90" height="98.10" fill="#c8c8c8" stroke="#333" stroke-width="0.9"/>
<rect x="636.70" y="656.30" width="31.20" height="117.50" fill="#96df8a" stroke="#333" stroke-width="0.9"/>
<line x1="605.50" y1="664.50" x2="605.50" y2="687.50" stroke="#222" stroke-width="0.95"/>
<line x1="600.70" y1="664.50" x2="610.30" y2="664.50" stroke="#222" stroke-width="0.95"/>
<line x1="600.70" y1="687.50" x2="610.30" y2="687.50" stroke="#222" stroke-width="0.95"/>
<line x1="652.50" y1="648.50" x2="652.50" y2="664.50" stroke="#222" stroke-width="0.95"/>
<line x1="647.70" y1="648.50" x2="657.30" y2="648.50" stroke="#222" stroke-width="0.95"/>
<line x1="647.70" y1="664.50" x2="657.30" y2="664.50" stroke="#222" stroke-width="0.95"/>
<circle cx="599.9" cy="670.6" r="1.45" fill="none" stroke="#3f3f3f" stroke-width="0.8"/>
<circle cx="614.0" cy="668.6" r="1.45" fill="none" stroke="#3f3f3f" stroke-width="0.8"/>
<circle cx="616.5" cy="671.1" r="1.45" fill="none" stroke="#3f3f3f" stroke-width="0.8"/>
<circle cx="612.7" cy="693.1" r="1.45" fill="none" stroke="#3f3f3f" stroke-width="0.8"/>
<circle cx="642.6" cy="652.5" r="1.45" fill="none" stroke="#2c5e29" stroke-width="0.8"/>
<circle cx="647.5" cy="646.9" r="1.45" fill="none" stroke="#2c5e29" stroke-width="0.8"/>
<circle cx="646.9" cy="664.7" r="1.45" fill="none" stroke="#2c5e29" stroke-width="0.8"/>
<circle cx="661.8" cy="662.7" r="1.45" fill="none" stroke="#2c5e29" stroke-width="0.8"/>
<path d="M576.4 609.9V773.8H681.1" fill="none" stroke="#000" stroke-width="1.5"/>
<line x1="572.00" y1="773.80" x2="576.40" y2="773.80" stroke="#000" stroke-width="1.2"/>
<text x="569.50" y="777.70" font-size="10.9" text-anchor="end">0</text>
<line x1="572.00" y1="741.10" x2="576.40" y2="741.10" stroke="#000" stroke-width="1.2"/>
<text x="569.50" y="745.00" font-size="10.9" text-anchor="end">10</text>
<line x1="572.00" y1="708.40" x2="576.40" y2="708.40" stroke="#000" stroke-width="1.2"/>
<text x="569.50" y="712.30" font-size="10.9" text-anchor="end">20</text>
<line x1="572.00" y1="675.70" x2="576.40" y2="675.70" stroke="#000" stroke-width="1.2"/>
<text x="569.50" y="679.60" font-size="10.9" text-anchor="end">30</text>
<line x1="572.00" y1="643.00" x2="576.40" y2="643.00" stroke="#000" stroke-width="1.2"/>
<text x="569.50" y="646.90" font-size="10.9" text-anchor="end">40</text>
<line x1="572.00" y1="610.30" x2="576.40" y2="610.30" stroke="#000" stroke-width="1.2"/>
<text x="569.50" y="614.20" font-size="10.9" text-anchor="end">50</text>
<line x1="605.00" y1="773.80" x2="605.00" y2="778.20" stroke="#000" stroke-width="1.2"/>
<text x="605.00" y="788.70" font-size="10.9" text-anchor="middle">CK</text>
<line x1="652.30" y1="773.80" x2="652.30" y2="778.20" stroke="#000" stroke-width="1.2"/>
<text x="652.30" y="788.70" font-size="10.9" text-anchor="middle">Y11.1</text>
<path d="M605.5 639.2V632.5H652.5V639.2" fill="none" stroke="#222" stroke-width="0.95"/>
<text x="627.5" y="629.0" font-size="10.9" text-anchor="middle"><tspan font-style="italic">p</tspan> = 0.039</text>
<text x="604.60" y="661.40" font-size="14" text-anchor="middle">*</text>
<text x="549.1" y="692.4" font-size="10.9" text-anchor="middle" transform="rotate(-90 549.1 692.4)">Fresh weight of shoot (g/plant)</text>
</g>
<g id="panel-f">
<text x="0.20" y="818.00" font-size="16" font-weight="bold">f</text>
<path d="M52.9 823.5H156.9V987.1" fill="none" stroke="#555" stroke-width="1"/>
<rect x="65.70" y="893.10" width="30.90" height="94.00" fill="#c8c8c8" stroke="#333" stroke-width="0.9"/>
<rect x="113.20" y="949.10" width="31.20" height="38.00" fill="#96df8a" stroke="#333" stroke-width="0.9"/>
<line x1="81.50" y1="866.50" x2="81.50" y2="920.50" stroke="#222" stroke-width="0.95"/>
<line x1="76.70" y1="866.50" x2="86.30" y2="866.50" stroke="#222" stroke-width="0.95"/>
<line x1="76.70" y1="920.50" x2="86.30" y2="920.50" stroke="#222" stroke-width="0.95"/>
<line x1="128.50" y1="937.50" x2="128.50" y2="961.50" stroke="#222" stroke-width="0.95"/>
<line x1="123.70" y1="937.50" x2="133.30" y2="937.50" stroke="#222" stroke-width="0.95"/>
<line x1="123.70" y1="961.50" x2="133.30" y2="961.50" stroke="#222" stroke-width="0.95"/>
<rect x="88.90" y="859.10" width="2.60" height="2.60" fill="none" stroke="#3f3f3f" stroke-width="0.8"/>
<circle cx="84.1" cy="882.4" r="1.45" fill="none" stroke="#3f3f3f" stroke-width="0.8"/>
<rect x="81.70" y="910.00" width="2.60" height="2.60" fill="none" stroke="#3f3f3f" stroke-width="0.8"/>
<circle cx="91.7" cy="918.9" r="1.45" fill="none" stroke="#3f3f3f" stroke-width="0.8"/>
<rect x="126.40" y="939.80" width="2.60" height="2.60" fill="none" stroke="#2c5e29" stroke-width="0.8"/>
<circle cx="138.0" cy="951.6" r="1.45" fill="none" stroke="#2c5e29" stroke-width="0.8"/>
<rect x="122.90" y="964.10" width="2.60" height="2.60" fill="none" stroke="#2c5e29" stroke-width="0.8"/>
<path d="M52.9 823.5V987.1H157.3" fill="none" stroke="#000" stroke-width="1.5"/>
<line x1="48.50" y1="987.10" x2="52.90" y2="987.10" stroke="#000" stroke-width="1.2"/>
<text x="45.80" y="991.00" font-size="10.9" text-anchor="end">0</text>
<line x1="48.50" y1="943.50" x2="52.90" y2="943.50" stroke="#000" stroke-width="1.2"/>
<text x="45.80" y="947.40" font-size="10.9" text-anchor="end">20</text>
<line x1="48.50" y1="899.90" x2="52.90" y2="899.90" stroke="#000" stroke-width="1.2"/>
<text x="45.80" y="903.80" font-size="10.9" text-anchor="end">40</text>
<line x1="48.50" y1="856.30" x2="52.90" y2="856.30" stroke="#000" stroke-width="1.2"/>
<text x="45.80" y="860.20" font-size="10.9" text-anchor="end">60</text>
<line x1="81.50" y1="987.10" x2="81.50" y2="991.50" stroke="#000" stroke-width="1.2"/>
<text x="81.50" y="1002.30" font-size="10.9" text-anchor="middle">CK</text>
<line x1="128.50" y1="987.10" x2="128.50" y2="991.50" stroke="#000" stroke-width="1.2"/>
<text x="128.50" y="1002.30" font-size="10.9" text-anchor="middle">Y11.1</text>
<path d="M81.5 855.3V848.5H128.5V855.3" fill="none" stroke="#222" stroke-width="0.95"/>
<text x="104.8" y="843.0" font-size="10.9" text-anchor="middle"><tspan font-style="italic">p</tspan> = 0.018</text>
<text x="128.00" y="934.60" font-size="14" text-anchor="middle">*</text>
<text x="25.3" y="906.0" font-size="10.9" text-anchor="middle" transform="rotate(-90 25.3 906.0)">Gall numbers per 10 g root</text>
<path d="M221.7 823.5H332.9V986.6" fill="none" stroke="#555" stroke-width="1"/>
<rect x="235.80" y="897.20" width="32.70" height="89.40" fill="#c8c8c8" stroke="#333" stroke-width="0.9"/>
<rect x="286.10" y="952.10" width="32.70" height="34.50" fill="#96df8a" stroke="#333" stroke-width="0.9"/>
<line x1="252.50" y1="867.50" x2="252.50" y2="927.50" stroke="#222" stroke-width="0.95"/>
<line x1="247.70" y1="867.50" x2="257.30" y2="867.50" stroke="#222" stroke-width="0.95"/>
<line x1="247.70" y1="927.50" x2="257.30" y2="927.50" stroke="#222" stroke-width="0.95"/>
<line x1="302.50" y1="935.50" x2="302.50" y2="969.50" stroke="#222" stroke-width="0.95"/>
<line x1="297.70" y1="935.50" x2="307.30" y2="935.50" stroke="#222" stroke-width="0.95"/>
<line x1="297.70" y1="969.50" x2="307.30" y2="969.50" stroke="#222" stroke-width="0.95"/>
<circle cx="264.6" cy="865.0" r="1.45" fill="none" stroke="#3f3f3f" stroke-width="0.8"/>
<circle cx="250.8" cy="881.9" r="1.45" fill="none" stroke="#3f3f3f" stroke-width="0.8"/>
<circle cx="242.4" cy="909.2" r="1.45" fill="none" stroke="#3f3f3f" stroke-width="0.8"/>
<circle cx="259.8" cy="933.5" r="1.45" fill="none" stroke="#3f3f3f" stroke-width="0.8"/>
<circle cx="306.0" cy="936.0" r="1.45" fill="#7fd672" stroke="#2c5e29" stroke-width="0.8"/>
<circle cx="292.5" cy="948.6" r="1.45" fill="none" stroke="#2c5e29" stroke-width="0.8"/>
<circle cx="296.8" cy="948.0" r="1.45" fill="none" stroke="#2c5e29" stroke-width="0.8"/>
<circle cx="309.9" cy="976.9" r="1.45" fill="none" stroke="#2c5e29" stroke-width="0.8"/>
<path d="M221.7 822.7V986.6H333.29999999999995" fill="none" stroke="#000" stroke-width="1.5"/>
<line x1="217.30" y1="986.60" x2="221.70" y2="986.60" stroke="#000" stroke-width="1.2"/>
<text x="215.00" y="990.50" font-size="10.9" text-anchor="end">0</text>
<line x1="217.30" y1="932.37" x2="221.70" y2="932.37" stroke="#000" stroke-width="1.2"/>
<text x="215.00" y="936.27" font-size="10.9" text-anchor="end">1</text>
<line x1="217.30" y1="878.13" x2="221.70" y2="878.13" stroke="#000" stroke-width="1.2"/>
<text x="215.00" y="882.03" font-size="10.9" text-anchor="end">2</text>
<line x1="217.30" y1="823.90" x2="221.70" y2="823.90" stroke="#000" stroke-width="1.2"/>
<text x="215.00" y="827.80" font-size="10.9" text-anchor="end">3</text>
<line x1="252.10" y1="986.60" x2="252.10" y2="991.00" stroke="#000" stroke-width="1.2"/>
<text x="252.10" y="1002.30" font-size="10.9" text-anchor="middle">CK</text>
<line x1="302.50" y1="986.60" x2="302.50" y2="991.00" stroke="#000" stroke-width="1.2"/>
<text x="302.50" y="1002.30" font-size="10.9" text-anchor="middle">Y11.1</text>
<path d="M252.5 855.5V849.5H302.5V855.5" fill="none" stroke="#222" stroke-width="0.95"/>
<text x="276.6" y="841.0" font-size="10.9" text-anchor="middle"><tspan font-style="italic">p</tspan> = 0.026</text>
<text x="302.50" y="930.90" font-size="14" text-anchor="middle">*</text>
<text x="186.0" y="898.8" font-size="10.9" text-anchor="middle" transform="rotate(-90 186.0 898.8)"><tspan font-style="italic">Meloidogyne</tspan> density</text>
<text x="199.4" y="897.3" font-size="10.9" text-anchor="middle" transform="rotate(-90 199.4 897.3)">(10⁷ copies/g soil)</text>
<path d="M405.3 823.5H512.5V986.1" fill="none" stroke="#555" stroke-width="1"/>
<rect x="419.60" y="904.40" width="31.10" height="81.70" fill="#c8c8c8" stroke="#333" stroke-width="0.9"/>
<rect x="467.30" y="867.00" width="31.20" height="119.10" fill="#96df8a" stroke="#333" stroke-width="0.9"/>
<line x1="435.50" y1="889.50" x2="435.50" y2="919.50" stroke="#222" stroke-width="0.95"/>
<line x1="430.70" y1="889.50" x2="440.30" y2="889.50" stroke="#222" stroke-width="0.95"/>
<line x1="430.70" y1="919.50" x2="440.30" y2="919.50" stroke="#222" stroke-width="0.95"/>
<line x1="483.50" y1="849.50" x2="483.50" y2="884.50" stroke="#222" stroke-width="0.95"/>
<line x1="478.70" y1="849.50" x2="488.30" y2="849.50" stroke="#222" stroke-width="0.95"/>
<line x1="478.70" y1="884.50" x2="488.30" y2="884.50" stroke="#222" stroke-width="0.95"/>
<circle cx="446.4" cy="890.3" r="1.45" fill="none" stroke="#3f3f3f" stroke-width="0.8"/>
<rect x="433.60" y="893.10" width="2.60" height="2.60" fill="none" stroke="#3f3f3f" stroke-width="0.8"/>
<rect x="432.30" y="908.40" width="2.60" height="2.60" fill="none" stroke="#3f3f3f" stroke-width="0.8"/>
<circle cx="423.9" cy="923.3" r="1.45" fill="none" stroke="#3f3f3f" stroke-width="0.8"/>
<circle cx="471.4" cy="847.4" r="1.45" fill="#7fd672" stroke="#2c5e29" stroke-width="0.8"/>
<circle cx="480.6" cy="857.9" r="1.45" fill="#7fd672" stroke="#2c5e29" stroke-width="0.8"/>
<rect x="486.20" y="876.00" width="2.60" height="2.60" fill="none" stroke="#2c5e29" stroke-width="0.8"/>
<rect x="492.40" y="884.10" width="2.60" height="2.60" fill="none" stroke="#2c5e29" stroke-width="0.8"/>
<path d="M405.3 822.7V986.1H512.9" fill="none" stroke="#000" stroke-width="1.5"/>
<line x1="400.90" y1="986.10" x2="405.30" y2="986.10" stroke="#000" stroke-width="1.2"/>
<text x="400.00" y="990.00" font-size="10.9" text-anchor="end">0</text>
<line x1="400.90" y1="933.47" x2="405.30" y2="933.47" stroke="#000" stroke-width="1.2"/>
<text x="400.00" y="937.37" font-size="10.9" text-anchor="end">2000</text>
<line x1="400.90" y1="880.83" x2="405.30" y2="880.83" stroke="#000" stroke-width="1.2"/>
<text x="400.00" y="884.73" font-size="10.9" text-anchor="end">4000</text>
<line x1="400.90" y1="828.20" x2="405.30" y2="828.20" stroke="#000" stroke-width="1.2"/>
<text x="400.00" y="832.10" font-size="10.9" text-anchor="end">6000</text>
<line x1="435.20" y1="986.10" x2="435.20" y2="990.50" stroke="#000" stroke-width="1.2"/>
<text x="435.20" y="1002.30" font-size="10.9" text-anchor="middle">CK</text>
<line x1="483.20" y1="986.10" x2="483.20" y2="990.50" stroke="#000" stroke-width="1.2"/>
<text x="483.20" y="1002.30" font-size="10.9" text-anchor="middle">Y11.1</text>
<path d="M435.5 846.9V840.5H483.5V846.9" fill="none" stroke="#222" stroke-width="0.95"/>
<text x="459.4" y="835.9" font-size="10.9" text-anchor="middle"><tspan font-style="italic">p</tspan> = 0.018</text>
<text x="435.00" y="886.90" font-size="14" text-anchor="middle">*</text>
<text x="370.0" y="904.0" font-size="10.9" text-anchor="middle" transform="rotate(-90 370.0 904.0)">Nematode abundance per 100 g dry soil</text>
<path d="M573.9 822.5H681.2V986.6" fill="none" stroke="#555" stroke-width="1"/>
<rect x="587.70" y="875.20" width="32.20" height="111.40" fill="#c8c8c8" stroke="#333" stroke-width="0.9"/>
<rect x="636.20" y="856.30" width="32.00" height="130.30" fill="#96df8a" stroke="#333" stroke-width="0.9"/>
<line x1="603.50" y1="872.50" x2="603.50" y2="877.50" stroke="#222" stroke-width="0.95"/>
<line x1="598.70" y1="872.50" x2="608.30" y2="872.50" stroke="#222" stroke-width="0.95"/>
<line x1="598.70" y1="877.50" x2="608.30" y2="877.50" stroke="#222" stroke-width="0.95"/>
<line x1="652.50" y1="853.50" x2="652.50" y2="859.50" stroke="#222" stroke-width="0.95"/>
<line x1="647.70" y1="853.50" x2="657.30" y2="853.50" stroke="#222" stroke-width="0.95"/>
<line x1="647.70" y1="859.50" x2="657.30" y2="859.50" stroke="#222" stroke-width="0.95"/>
<circle cx="591.8" cy="875.2" r="1.45" fill="none" stroke="#3f3f3f" stroke-width="0.8"/>
<circle cx="610.2" cy="872.4" r="1.45" fill="none" stroke="#3f3f3f" stroke-width="0.8"/>
<circle cx="613.2" cy="879.1" r="1.45" fill="none" stroke="#3f3f3f" stroke-width="0.8"/>
<circle cx="642.1" cy="853.8" r="1.45" fill="none" stroke="#2c5e29" stroke-width="0.8"/>
<circle cx="642.1" cy="859.1" r="1.45" fill="none" stroke="#2c5e29" stroke-width="0.8"/>
<circle cx="663.3" cy="853.8" r="1.45" fill="none" stroke="#2c5e29" stroke-width="0.8"/>
<circle cx="661.3" cy="859.1" r="1.45" fill="none" stroke="#2c5e29" stroke-width="0.8"/>
<path d="M573.9 822.4V986.6H681.6" fill="none" stroke="#000" stroke-width="1.5"/>
<line x1="569.50" y1="986.60" x2="573.90" y2="986.60" stroke="#000" stroke-width="1.2"/>
<text x="567.00" y="990.50" font-size="10.9" text-anchor="end">0</text>
<line x1="569.50" y1="932.00" x2="573.90" y2="932.00" stroke="#000" stroke-width="1.2"/>
<text x="567.00" y="935.90" font-size="10.9" text-anchor="end">100</text>
<line x1="569.50" y1="877.40" x2="573.90" y2="877.40" stroke="#000" stroke-width="1.2"/>
<text x="567.00" y="881.30" font-size="10.9" text-anchor="end">200</text>
<line x1="569.50" y1="822.80" x2="573.90" y2="822.80" stroke="#000" stroke-width="1.2"/>
<text x="567.00" y="826.70" font-size="10.9" text-anchor="end">300</text>
<line x1="603.80" y1="986.60" x2="603.80" y2="991.00" stroke="#000" stroke-width="1.2"/>
<text x="603.80" y="1002.30" font-size="10.9" text-anchor="middle">CK</text>
<line x1="652.00" y1="986.60" x2="652.00" y2="991.00" stroke="#000" stroke-width="1.2"/>
<text x="652.00" y="1002.30" font-size="10.9" text-anchor="middle">Y11.1</text>
<path d="M603.5 848.1V841.5H652.5V848.1" fill="none" stroke="#222" stroke-width="0.95"/>
<text x="627.5" y="836.6" font-size="10.9" text-anchor="middle"><tspan font-style="italic">p</tspan> &lt; 0.001</text>
<text x="604.50" y="871.60" font-size="14" text-anchor="middle">* * *</text>
<text x="545.0" y="905.0" font-size="10.9" text-anchor="middle" transform="rotate(-90 545.0 905.0)">Fresh weight of shoot (g/plant)</text>
</g>
</svg>
</body></html>
